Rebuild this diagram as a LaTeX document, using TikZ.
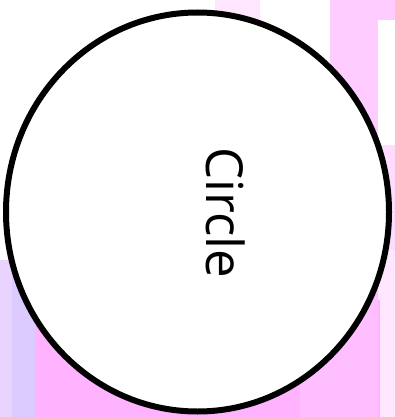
\documentclass[tikz,border=0pt]{standalone}
\usepackage{fontspec}
\setmainfont{Open Sans}
\usetikzlibrary{shapes.geometric}
\definecolor{pinkA}{HTML}{FFB3FF}
\definecolor{pinkB}{HTML}{FFCCFF}
\definecolor{pinkC}{HTML}{FFE6FF}
\definecolor{lavA}{HTML}{E8D4FF}
\definecolor{lavB}{HTML}{DCCBFF}
\tikzset{
  circlenode/.style={ellipse, draw=black, line width=6pt, fill=white, inner sep=0pt, minimum width=383pt, minimum height=399pt},
  label/.style={rotate=-90, font=\fontsize{51}{55}\selectfont, text=black, inner sep=0pt}
}
\begin{document}
\begin{tikzpicture}[x=1pt,y=-1pt]
\useasboundingbox (0,0) rectangle (395,417);
\fill[white] (0,0) rectangle (395,417);
% background stripes
\fill[pinkC] (215,0) rectangle (260,60);
\fill[pinkB] (330,0) rectangle (395,20);
\fill[pinkB] (330,20) rectangle (378,417);
\fill[pinkB!70!white] (378,145) rectangle (395,250);
\fill[pinkC] (378,250) rectangle (395,417);
\fill[lavA] (0,260) rectangle (12,417);
\fill[lavB] (12,260) rectangle (35,417);
\fill[pinkA] (35,300) rectangle (380,417);
\fill[pinkA!85!white] (300,250) rectangle (378,417);
\node[circlenode] (c) at (197.5,212) {};
\node[label] (t) at (226,213) {Circle};
\end{tikzpicture}
\end{document}
